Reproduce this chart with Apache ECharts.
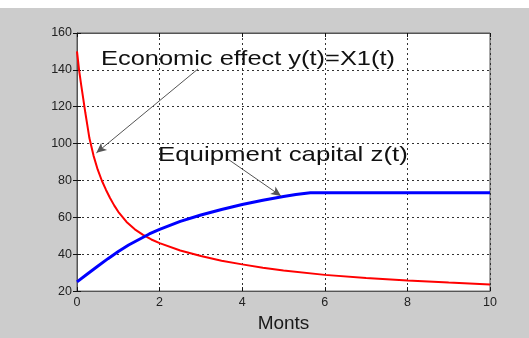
<!DOCTYPE html>
<html>
<head>
<meta charset="utf-8">
<script src="https://cdn.jsdelivr.net/npm/echarts@6/dist/echarts.min.js"></script>
<style>
  html, body { margin: 0; padding: 0; background: #ffffff; }
  #wrap { width: 529px; height: 338px; position: relative; }
  #chart { position: absolute; left: 0; top: 8px; width: 529px; height: 330px; background: #cccccc; }
</style>
</head>
<body>
<div id="wrap"><div id="chart"></div></div>
<script>
// values
const effectT = [0, 0.05, 0.1, 0.15, 0.2, 0.25, 0.3, 0.4, 0.5, 0.6, 0.7, 0.8, 0.9, 1.0, 1.2, 1.4, 1.6, 1.8, 2.0, 2.5, 3, 3.5, 4, 4.5, 5, 6, 7, 8, 9, 10]
const effectY = [150, 140, 132, 124.5, 117, 110, 103, 93.5, 86, 80, 75, 70.5, 66.5, 63, 57.5, 53.5, 50.5, 48, 46, 42, 39, 36.5, 34.5, 32.7, 31.2, 28.8, 27.1, 25.8, 24.6, 23.6]

const capitalT = [0, 0.25, 0.5, 0.75, 1, 1.25, 1.5, 1.75, 2, 2.5, 3, 3.5, 4, 4.5, 5, 5.3, 5.65, 6, 7, 8, 9, 10]
const capitalY = [25, 29.3, 33.5, 37.6, 41.5, 45, 48, 51, 53.5, 57.8, 61.3, 64.3, 67, 69.3, 71.3, 72.4, 73.3, 73.3, 73.3, 73.3, 73.3, 73.3]

const xTicks = [0, 2, 4, 6, 8, 10]
const yTicks = [20, 40, 60, 80, 100, 120, 140, 160]

// annotation arrows, in data units [from, to]
const effectArrow = [[2.93, 140.5], [0.47, 95]]
const capitalArrow = [[3.66, 91.5], [4.94, 71.6]]

function pairs(xs, ys) {
  return xs.map(function(x, i) { return [x, ys[i]] })
}

const chart = echarts.init(document.getElementById('chart'))
const font = 'Liberation Sans, Arial, sans-serif'
const frame = '#555555'

const gridLine = { show: true, lineStyle: { type: [2, 3], color: '#333333', width: 1 } }

function arrow(seg) {
  return {
    silent: true,
    symbol: ['none', 'arrow'],
    symbolSize: [7, 10],
    label: { show: false },
    lineStyle: { type: 'solid', color: '#555555', width: 1 },
    data: [[{ coord: seg[0] }, { coord: seg[1] }]]
  }
}

const option = {
  animation: false,
  backgroundColor: 'transparent',
  grid: { left: 77, right: 39, top: 25, bottom: 34, show: true, backgroundColor: '#ffffff', borderColor: frame, borderWidth: 1 },
  xAxis: [
    {
      type: 'value', min: xTicks[0], max: xTicks[xTicks.length - 1], interval: 2,
      name: 'Monts', nameLocation: 'middle', nameGap: 19,
      nameTextStyle: { fontFamily: font, fontSize: 19, color: '#1a1a1a', verticalAlign: 'top' },
      axisLine: { show: true, lineStyle: { color: frame, width: 1 } },
      axisTick: { show: true, inside: true, length: 4, lineStyle: { color: '#111' } },
      axisLabel: { fontFamily: font, fontSize: 12.5, color: '#222', margin: 5 },
      splitLine: gridLine
    },
    {
      type: 'value', position: 'top', min: 0, max: 10, interval: 2,
      axisLine: { show: true, lineStyle: { color: frame } },
      axisTick: { show: true, inside: true, length: 4, lineStyle: { color: '#111' } },
      axisLabel: { show: false }, splitLine: { show: false }
    }
  ],
  yAxis: [
    {
      type: 'value', min: yTicks[0], max: yTicks[yTicks.length - 1], interval: 20,
      axisLine: { show: true, lineStyle: { color: frame, width: 1 } },
      axisTick: { show: true, inside: true, length: 4, lineStyle: { color: '#111' } },
      axisLabel: { fontFamily: font, fontSize: 12.5, color: '#222', margin: 5 },
      splitLine: gridLine
    },
    {
      type: 'value', position: 'right', min: 20, max: 160, interval: 20,
      axisLine: { show: true, lineStyle: { color: frame } },
      axisTick: { show: true, inside: true, length: 4, lineStyle: { color: '#111' } },
      axisLabel: { show: false }, splitLine: { show: false }
    }
  ],
  series: [
    {
      name: 'Economic effect', type: 'line', data: pairs(effectT, effectY),
      smooth: false, showSymbol: false,
      lineStyle: { color: '#ff0000', width: 2 },
      markLine: arrow(effectArrow)
    },
    {
      name: 'Equipment capital', type: 'line', data: pairs(capitalT, capitalY),
      smooth: false, showSymbol: false,
      lineStyle: { color: '#0000ff', width: 3 },
      markLine: arrow(capitalArrow)
    }
  ],
  graphic: [
    {
      type: 'text', x: 101, y: 41, z: 100, scaleX: 1.21,
      style: { text: 'Economic effect y(t)=X1(t)', font: '21px ' + font, fill: '#111' }
    },
    {
      type: 'text', x: 158, y: 137, z: 100, scaleX: 1.23,
      style: { text: 'Equipment capital z(t)', font: '21px ' + font, fill: '#111' }
    }
  ]
}

chart.setOption(option)
</script>
</body>
</html>
